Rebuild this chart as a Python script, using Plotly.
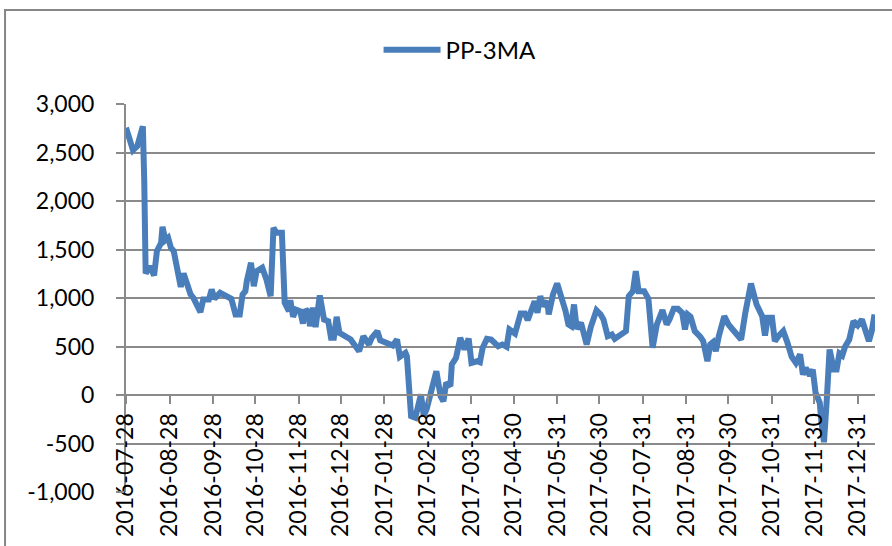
import plotly.graph_objects as go

series_name = "PP-3MA"

dates = [
    "2016-07-28", "2016-08-02", "2016-08-05", "2016-08-09", "2016-08-10", "2016-08-11",
    "2016-08-14", "2016-08-17", "2016-08-19", "2016-08-22", "2016-08-23", "2016-08-25",
    "2016-08-27", "2016-08-29", "2016-08-31", "2016-09-03", "2016-09-05", "2016-09-07",
    "2016-09-09", "2016-09-12", "2016-09-14", "2016-09-19", "2016-09-21", "2016-09-25",
    "2016-09-27", "2016-09-29", "2016-10-03", "2016-10-08", "2016-10-11", "2016-10-14",
    "2016-10-17", "2016-10-19", "2016-10-21", "2016-10-22", "2016-10-25", "2016-10-27",
    "2016-10-29", "2016-11-02", "2016-11-05", "2016-11-08", "2016-11-10", "2016-11-12",
    "2016-11-16", "2016-11-18", "2016-11-21", "2016-11-22", "2016-11-24", "2016-11-26",
    "2016-11-29", "2016-12-01", "2016-12-03", "2016-12-05", "2016-12-06", "2016-12-08",
    "2016-12-10", "2016-12-13", "2016-12-16", "2016-12-19", "2016-12-21", "2016-12-23",
    "2016-12-25", "2016-12-27", "2016-12-31", "2017-01-04", "2017-01-07", "2017-01-10",
    "2017-01-13", "2017-01-17", "2017-01-19", "2017-01-23", "2017-01-25", "2017-01-30",
    "2017-02-03", "2017-02-06", "2017-02-08", "2017-02-12", "2017-02-13", "2017-02-16",
    "2017-02-19", "2017-02-23", "2017-02-25", "2017-02-27", "2017-03-02", "2017-03-06",
    "2017-03-09", "2017-03-11", "2017-03-13", "2017-03-16", "2017-03-17", "2017-03-20",
    "2017-03-23", "2017-03-26", "2017-03-29", "2017-03-31", "2017-04-04", "2017-04-06",
    "2017-04-08", "2017-04-11", "2017-04-14", "2017-04-17", "2017-04-19", "2017-04-22",
    "2017-04-25", "2017-04-27", "2017-05-01", "2017-05-05", "2017-05-08", "2017-05-10",
    "2017-05-13", "2017-05-15", "2017-05-17", "2017-05-19", "2017-05-21", "2017-05-24",
    "2017-05-25", "2017-05-28", "2017-05-31", "2017-06-03", "2017-06-06", "2017-06-08",
    "2017-06-10", "2017-06-12", "2017-06-14", "2017-06-17", "2017-06-21", "2017-06-24",
    "2017-06-28", "2017-07-01", "2017-07-03", "2017-07-06", "2017-07-09", "2017-07-11",
    "2017-07-15", "2017-07-19", "2017-07-21", "2017-07-24", "2017-07-26", "2017-07-28",
    "2017-08-01", "2017-08-04", "2017-08-07", "2017-08-10", "2017-08-14", "2017-08-17",
    "2017-08-19", "2017-08-22", "2017-08-25", "2017-08-28", "2017-08-30", "2017-09-01",
    "2017-09-03", "2017-09-06", "2017-09-10", "2017-09-12", "2017-09-15", "2017-09-17",
    "2017-09-19", "2017-09-21", "2017-09-23", "2017-09-27", "2017-09-30", "2017-10-05",
    "2017-10-09", "2017-10-12", "2017-10-16", "2017-10-20", "2017-10-24", "2017-10-26",
    "2017-10-28", "2017-10-31", "2017-11-02", "2017-11-05", "2017-11-08", "2017-11-11",
    "2017-11-14", "2017-11-17", "2017-11-20", "2017-11-22", "2017-11-24", "2017-11-27",
    "2017-11-29", "2017-12-01", "2017-12-04", "2017-12-05", "2017-12-07", "2017-12-09",
    "2017-12-11", "2017-12-14", "2017-12-16", "2017-12-18", "2017-12-20", "2017-12-22",
    "2017-12-25", "2017-12-28", "2017-12-31", "2018-01-03", "2018-01-05", "2018-01-08",
    "2018-01-10", "2018-01-12",
]

values = [
    2755, 2524, 2565, 2771, 2204, 1253,
    1328, 1232, 1483, 1569, 1734, 1596,
    1621, 1518, 1483, 1294, 1115, 1253,
    1157, 1036, 1002, 854, 985, 985,
    1088, 992, 1054, 1019, 992, 830,
    830, 1036, 1070, 1173, 1363, 1122,
    1276, 1311, 1191, 1019, 1724, 1672,
    1672, 951, 864, 977, 806, 881,
    864, 737, 881, 854, 709, 900,
    700, 1026, 778, 761, 590, 590,
    806, 641, 606, 572, 510, 452,
    606, 521, 590, 658, 565, 531,
    510, 572, 394, 435, 400, -218,
    -235, 5, -211, -149, 23, 245,
    -12, -64, 126, 91, 314, 384,
    590, 469, 582, 332, 348, 338,
    487, 579, 572, 538, 503, 521,
    497, 675, 634, 840, 840, 771,
    899, 967, 847, 1019, 916, 967,
    830, 1036, 1150, 1019, 864, 727,
    709, 933, 682, 744, 521, 703,
    874, 830, 778, 606, 624, 579,
    624, 658, 1019, 1070, 1276, 1070,
    1070, 992, 487, 727, 874, 727,
    778, 889, 889, 847, 675, 830,
    806, 658, 600, 555, 348, 521,
    545, 452, 600, 812, 727, 648,
    572, 847, 1150, 933, 812, 613,
    796, 796, 555, 613, 658, 538,
    394, 332, 418, 211, 280, 201,
    263, 23, -80, -253, -487, -46,
    469, 263, 263, 428, 407, 497,
    572, 761, 717, 778, 693, 555,
    658, 830,
]

tick_dates = [
    "2016-07-28", "2016-08-28", "2016-09-28", "2016-10-28", "2016-11-28", "2016-12-28",
    "2017-01-28", "2017-02-28", "2017-03-31", "2017-04-30", "2017-05-31", "2017-06-30",
    "2017-07-31", "2017-08-31", "2017-09-30", "2017-10-31", "2017-11-30", "2017-12-31",
]
y_ticks = [-1000, -500, 0, 500, 1000, 1500, 2000, 2500, 3000]
y_labels = ["-1,000", "-500", "0", "500", "1,000", "1,500", "2,000", "2,500", "3,000"]

FONT = "Lato, 'Open Sans', sans-serif"
GRID = "#8A8A8A"

fig = go.Figure()
fig.add_trace(go.Scatter(
    x=dates, y=values, mode="lines", name=series_name,
    line=dict(color="#4A7EBB", width=6),
))

fig.update_layout(
    width=892, height=546,
    margin=dict(l=126, r=17, t=104, b=54),
    paper_bgcolor="white", plot_bgcolor="white",
    font=dict(family=FONT, size=23, color="black"),
    showlegend=True,
    legend=dict(
        orientation="h", x=0.446, xanchor="center", y=1.139, yanchor="middle",
        font=dict(family=FONT, size=24, color="black"),
        itemwidth=57, bgcolor="rgba(0,0,0,0)",
    ),
    xaxis=dict(
        type="date",
        range=["2016-07-28", "2018-01-12 08:00"],
        tickvals=tick_dates, ticktext=tick_dates,
        tickangle=-90,
        showgrid=False, zeroline=False,
        showline=True, linecolor=GRID, linewidth=2,
        ticks="outside", ticklen=8, tickwidth=2, tickcolor=GRID,
        anchor="free", position=0.25,
        automargin=False,
        tickfont=dict(family=FONT, size=23, color="black"),
    ),
    yaxis=dict(
        range=[-1000, 3000],
        tickvals=y_ticks, ticktext=y_labels,
        showgrid=True, gridcolor=GRID, gridwidth=2,
        zeroline=False,
        showline=True, linecolor=GRID, linewidth=2,
        ticks="outside", ticklen=8, tickwidth=2, tickcolor=GRID,
        ticklabelstandoff=17,
        automargin=False,
        tickfont=dict(family=FONT, size=23, color="black"),
    ),
    shapes=[dict(
        type="rect", xref="paper", yref="paper",
        x0=-0.1615, x1=1.2, y0=-0.3, y1=1.2423,
        line=dict(color="#868686", width=2), layer="below",
    )],
)

fig.write_html(
    "out.html",
    config={"displayModeBar": False},
    post_script="document.body.style.margin='0';",
)
